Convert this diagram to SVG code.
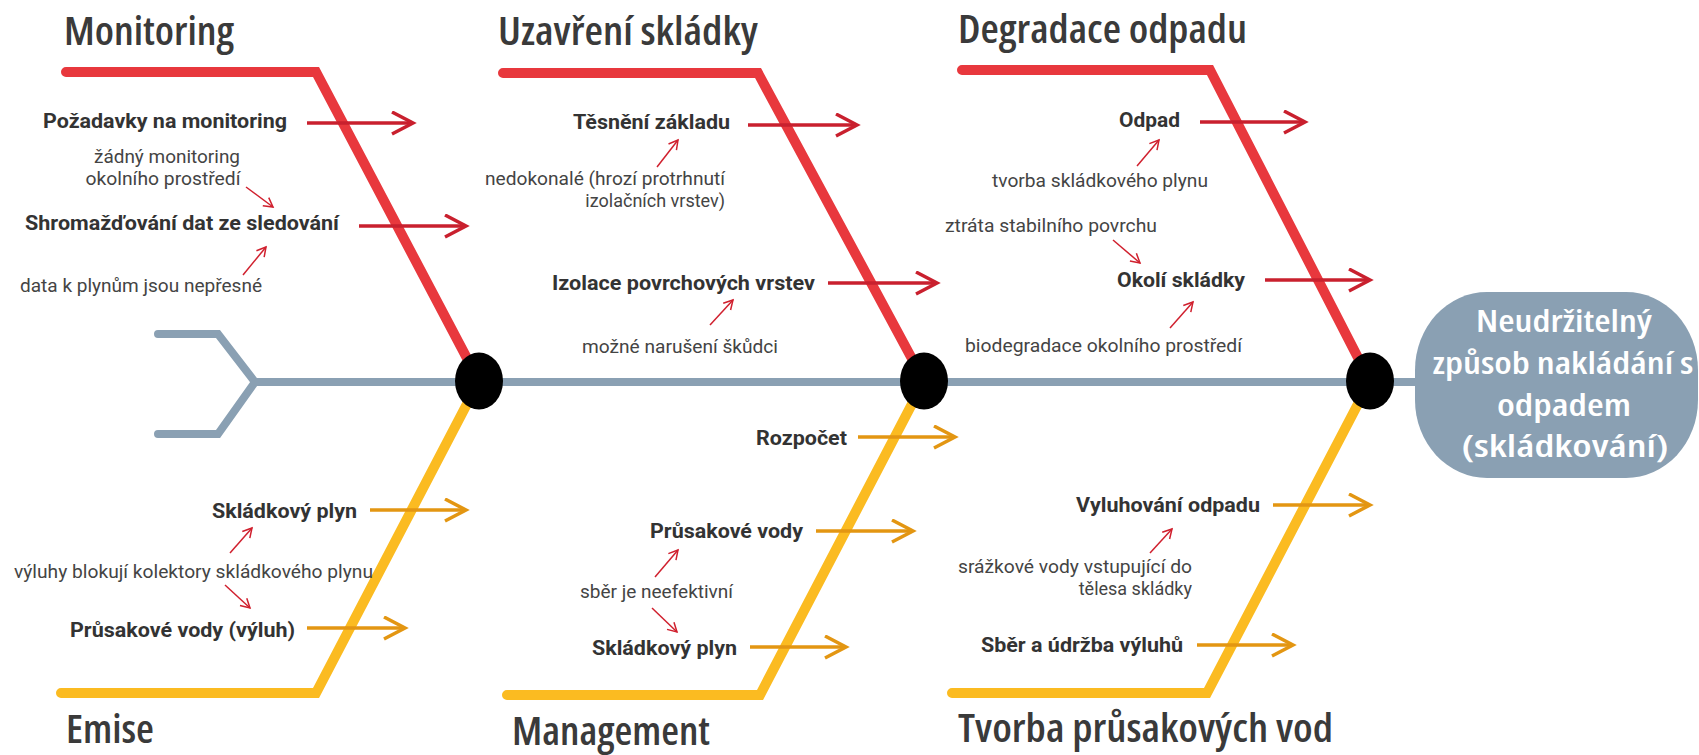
<svg xmlns="http://www.w3.org/2000/svg" width="1699" height="755" viewBox="0 0 1699 755">
<defs>
<style>
.bone{fill:none;stroke-width:10;stroke-linecap:round;stroke-linejoin:miter}
.red{stroke:#e8383d}
.yel{stroke:#fbbb21}
.spine{fill:none;stroke:#8aa0b3;stroke-width:8;stroke-linecap:round;stroke-linejoin:miter}
.node{fill:#000}
.arR{stroke:#c9202e;stroke-width:3.5;fill:none;marker-end:url(#mR)}
.arO{stroke:#e39612;stroke-width:3.5;fill:none;marker-end:url(#mO)}
.sa{stroke:#d0202e;stroke-width:1.5;fill:none;marker-end:url(#mS)}
.title{font-family:"Open Sans","Liberation Sans Narrow","Liberation Sans",sans-serif;font-stretch:75%;font-weight:600;font-size:39px;fill:#3a3a3a}
.lab{font-family:Roboto,"Liberation Sans",sans-serif;font-weight:700;font-size:21px;fill:#333}
.sm{font-family:Roboto,"Liberation Sans",sans-serif;font-weight:400;font-size:18px;fill:#444}
.ctr{font-family:"Open Sans","Liberation Sans Narrow","Liberation Sans",sans-serif;font-stretch:75%;font-weight:600;font-size:31px;fill:#fff;text-anchor:middle}
</style>
<marker id="mR" markerUnits="userSpaceOnUse" markerWidth="26" markerHeight="26" refX="22" refY="12" orient="auto"><path d="M1,1 L22,12 L1,23" fill="none" stroke="#c9202e" stroke-width="3.5"/></marker>
<marker id="mO" markerUnits="userSpaceOnUse" markerWidth="26" markerHeight="26" refX="22" refY="12" orient="auto"><path d="M1,1 L22,12 L1,23" fill="none" stroke="#e39612" stroke-width="3.5"/></marker>
<marker id="mS" markerUnits="userSpaceOnUse" markerWidth="14" markerHeight="14" refX="10" refY="6" orient="auto"><path d="M1,1 L10,6 L1,11" fill="none" stroke="#d0202e" stroke-width="1.5"/></marker>
</defs>
<rect width="1699" height="755" fill="#fff"/>

<g id="connectors">
<path class="spine" d="M158,334 L218,334 L255,382 L218,434 L158,434 M255,382 L1425,382"/>
<path class="bone red" d="M66,72 L316,72 L479,381"/>
<path class="bone red" d="M503,73 L758,73 L924,381"/>
<path class="bone red" d="M962,70 L1210,70 L1370,381"/>
<path class="bone yel" d="M61,693 L316,693 L479,381"/>
<path class="bone yel" d="M507,695 L760,695 L924,381"/>
<path class="bone yel" d="M952,693 L1207,693 L1370,381"/>
<line class="arR" x1="307" y1="123" x2="413" y2="123"/>
<line class="arR" x1="359" y1="226" x2="466" y2="226"/>
<line class="arR" x1="748" y1="125" x2="857" y2="125"/>
<line class="arR" x1="828" y1="283" x2="937" y2="283"/>
<line class="arR" x1="1200" y1="122" x2="1305" y2="122"/>
<line class="arR" x1="1265" y1="280" x2="1370" y2="280"/>
<line class="arO" x1="370" y1="510" x2="466" y2="510"/>
<line class="arO" x1="307" y1="628" x2="405" y2="628"/>
<line class="arO" x1="858" y1="437" x2="955" y2="437"/>
<line class="arO" x1="816" y1="531" x2="913" y2="531"/>
<line class="arO" x1="750" y1="647" x2="846" y2="647"/>
<line class="arO" x1="1273" y1="505" x2="1370" y2="505"/>
<line class="arO" x1="1197" y1="645" x2="1293" y2="645"/>
<line class="sa" x1="246" y1="187" x2="273" y2="207"/>
<line class="sa" x1="243" y1="275" x2="266" y2="247"/>
<line class="sa" x1="657" y1="167" x2="678" y2="140"/>
<line class="sa" x1="710" y1="325" x2="733" y2="300"/>
<line class="sa" x1="1137" y1="166" x2="1159" y2="140"/>
<line class="sa" x1="1113" y1="240" x2="1140" y2="263"/>
<line class="sa" x1="1170" y1="328" x2="1193" y2="302"/>
<line class="sa" x1="230" y1="553" x2="252" y2="528"/>
<line class="sa" x1="225" y1="585" x2="250" y2="608"/>
<line class="sa" x1="655" y1="577" x2="678" y2="550"/>
<line class="sa" x1="652" y1="608" x2="677" y2="632"/>
<line class="sa" x1="1150" y1="553" x2="1172" y2="529"/>
</g>

<g id="node-j1"><ellipse class="node" cx="479" cy="381" rx="24" ry="28.5"/></g>
<g id="node-j2"><ellipse class="node" cx="924" cy="381" rx="24" ry="28.5"/></g>
<g id="node-j3"><ellipse class="node" cx="1370" cy="381" rx="24" ry="28.5"/></g>

<g id="node-head">
<rect x="1415" y="292" width="283" height="186" rx="72" ry="78" fill="#8aa0b3"/>
<text class="ctr" x="1564" y="332" textLength="176" lengthAdjust="spacingAndGlyphs">Neudržitelný</text>
<text class="ctr" x="1563" y="374" textLength="261" lengthAdjust="spacingAndGlyphs">způsob nakládání s</text>
<text class="ctr" x="1564" y="416" textLength="134" lengthAdjust="spacingAndGlyphs">odpadem</text>
<text class="ctr" x="1565" y="457" textLength="207" lengthAdjust="spacingAndGlyphs">(skládkování)</text>
</g>

<g id="cat-monitoring">
<text class="title" x="64" y="45" textLength="170" lengthAdjust="spacingAndGlyphs">Monitoring</text>
<text class="lab" x="43" y="128" textLength="244" lengthAdjust="spacingAndGlyphs">Požadavky na monitoring</text>
<text class="sm" x="167" y="163" text-anchor="middle" textLength="146" lengthAdjust="spacingAndGlyphs">žádný monitoring</text>
<text class="sm" x="163" y="185" text-anchor="middle" textLength="155" lengthAdjust="spacingAndGlyphs">okolního prostředí</text>
<text class="lab" x="25" y="230" textLength="314" lengthAdjust="spacingAndGlyphs">Shromažďování dat ze sledování</text>
<text class="sm" x="20" y="292" textLength="242" lengthAdjust="spacingAndGlyphs">data k plynům jsou nepřesné</text>
</g>

<g id="cat-uzavreni">
<text class="title" x="498" y="45" textLength="260" lengthAdjust="spacingAndGlyphs">Uzavření skládky</text>
<text class="lab" x="573" y="129" textLength="157" lengthAdjust="spacingAndGlyphs">Těsnění základu</text>
<text class="sm" x="725" y="185" text-anchor="end" textLength="240" lengthAdjust="spacingAndGlyphs">nedokonalé (hrozí protrhnutí</text>
<text class="sm" x="725" y="207" text-anchor="end">izolačních vrstev)</text>
<text class="lab" x="552" y="290" textLength="263" lengthAdjust="spacingAndGlyphs">Izolace povrchových vrstev</text>
<text class="sm" x="582" y="353" textLength="196" lengthAdjust="spacingAndGlyphs">možné narušení škůdci</text>
</g>

<g id="cat-degradace">
<text class="title" x="958" y="43" textLength="289" lengthAdjust="spacingAndGlyphs">Degradace odpadu</text>
<text class="lab" x="1119" y="127" textLength="61" lengthAdjust="spacingAndGlyphs">Odpad</text>
<text class="sm" x="992" y="187" textLength="216" lengthAdjust="spacingAndGlyphs">tvorba skládkového plynu</text>
<text class="sm" x="945" y="232" textLength="212" lengthAdjust="spacingAndGlyphs">ztráta stabilního povrchu</text>
<text class="lab" x="1117" y="287" textLength="128" lengthAdjust="spacingAndGlyphs">Okolí skládky</text>
<text class="sm" x="965" y="352" textLength="277" lengthAdjust="spacingAndGlyphs">biodegradace okolního prostředí</text>
</g>

<g id="cat-emise">
<text class="lab" x="212" y="518" textLength="145" lengthAdjust="spacingAndGlyphs">Skládkový plyn</text>
<text class="sm" x="14" y="578" textLength="359" lengthAdjust="spacingAndGlyphs">výluhy blokují kolektory skládkového plynu</text>
<text class="lab" x="70" y="637" textLength="225" lengthAdjust="spacingAndGlyphs">Průsakové vody (výluh)</text>
<text class="title" x="66" y="743" textLength="88" lengthAdjust="spacingAndGlyphs">Emise</text>
</g>

<g id="cat-management">
<text class="lab" x="756" y="445" textLength="91" lengthAdjust="spacingAndGlyphs">Rozpočet</text>
<text class="lab" x="650" y="538" textLength="153" lengthAdjust="spacingAndGlyphs">Průsakové vody</text>
<text class="sm" x="580" y="598" textLength="153" lengthAdjust="spacingAndGlyphs">sběr je neefektivní</text>
<text class="lab" x="592" y="655" textLength="145" lengthAdjust="spacingAndGlyphs">Skládkový plyn</text>
<text class="title" x="512" y="745" textLength="198" lengthAdjust="spacingAndGlyphs">Management</text>
</g>

<g id="cat-tvorba">
<text class="lab" x="1076" y="512" textLength="184" lengthAdjust="spacingAndGlyphs">Vyluhování odpadu</text>
<text class="sm" x="1192" y="573" text-anchor="end" textLength="234" lengthAdjust="spacingAndGlyphs">srážkové vody vstupující do</text>
<text class="sm" x="1192" y="595" text-anchor="end">tělesa skládky</text>
<text class="lab" x="981" y="652" textLength="202" lengthAdjust="spacingAndGlyphs">Sběr a údržba výluhů</text>
<text class="title" x="958" y="742" textLength="375" lengthAdjust="spacingAndGlyphs">Tvorba průsakových vod</text>
</g>
</svg>
